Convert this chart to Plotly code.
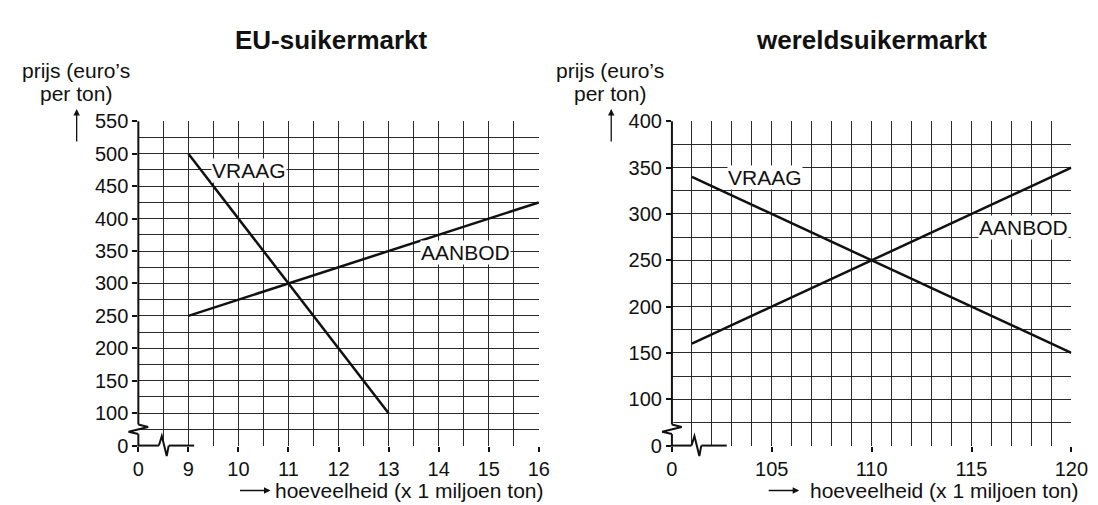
import plotly.graph_objects as go

# ---------------- data ----------------
eu_vraag_x = [9, 13]
eu_vraag_y = [500, 100]
eu_aanbod_x = [9, 16]
eu_aanbod_y = [250, 425]

w_vraag_x = [101, 120]
w_vraag_y = [340, 150]
w_aanbod_x = [101, 120]
w_aanbod_y = [160, 350]

eu_xticks = [8, 9, 10, 11, 12, 13, 14, 15, 16]
eu_xtext = ["0", "9", "10", "11", "12", "13", "14", "15", "16"]
eu_yticks = [50, 100, 150, 200, 250, 300, 350, 400, 450, 500, 550]
eu_ytext = ["0", "100", "150", "200", "250", "300", "350", "400", "450", "500", "550"]

w_xticks = [100, 105, 110, 115, 120]
w_xtext = ["0", "105", "110", "115", "120"]
w_yticks = [50, 100, 150, 200, 250, 300, 350, 400]
w_ytext = ["0", "100", "150", "200", "250", "300", "350", "400"]

W, H = 1098, 505
FONT = "Liberation Sans, Arial, Helvetica, sans-serif"
GRID = "#2a2a2a"


def px(x):
    return x / W


def py(y):
    return 1 - y / H


fig = go.Figure()
line_style = dict(color="#111111", width=2.5)
fig.add_trace(go.Scatter(x=eu_vraag_x, y=eu_vraag_y, mode="lines", line=line_style,
                         xaxis="x", yaxis="y", showlegend=False, hoverinfo="skip"))
fig.add_trace(go.Scatter(x=eu_aanbod_x, y=eu_aanbod_y, mode="lines", line=line_style,
                         xaxis="x", yaxis="y", showlegend=False, hoverinfo="skip"))
fig.add_trace(go.Scatter(x=w_vraag_x, y=w_vraag_y, mode="lines", line=line_style,
                         xaxis="x2", yaxis="y2", showlegend=False, hoverinfo="skip"))
fig.add_trace(go.Scatter(x=w_aanbod_x, y=w_aanbod_y, mode="lines", line=line_style,
                         xaxis="x2", yaxis="y2", showlegend=False, hoverinfo="skip"))

tickfont = dict(family=FONT, size=20, color="#111111")


def axis(domain, rng, tickvals, ticktext, minor_dtick, minor_tick0, anchor):
    return dict(
        domain=domain, range=rng, anchor=anchor,
        tickmode="array", tickvals=tickvals, ticktext=ticktext,
        ticks="outside", ticklen=5, tickwidth=2, tickcolor="#111111",
        tickfont=tickfont,
        showgrid=True, gridcolor=GRID, gridwidth=1,
        minor=dict(dtick=minor_dtick, tick0=minor_tick0, showgrid=True,
                   gridcolor=GRID, gridwidth=1, ticks=""),
        showline=False, zeroline=False, fixedrange=True,
    )


xd1 = [px(127), px(536)]
xd2 = [px(672), px(1080)]
yd = [py(446), py(107)]

layout = dict(
    width=W, height=H,
    margin=dict(l=0, r=0, t=0, b=0),
    paper_bgcolor="white", plot_bgcolor="white",
    showlegend=False,
    xaxis=axis(xd1, [8, 16], eu_xticks, eu_xtext, 0.5, 8, "y"),
    yaxis=axis(yd, [50, 550], eu_yticks, eu_ytext, 25, 50, "x"),
    xaxis2=axis(xd2, [100, 120], w_xticks, w_xtext, 1, 100, "y2"),
    yaxis2=axis(yd, [50, 400], w_yticks, w_ytext, 25, 50, "x2"),
)
fig.update_layout(**layout)

shapes = []


def seg(x0, y0, x1, y1, lw=2):
    shapes.append(dict(type="line", xref="paper", yref="paper",
                       x0=px(x0), y0=py(y0), x1=px(x1), y1=py(y1),
                       line=dict(color="#111111", width=lw), layer="above"))


def mask(x0, y0, x1, y1):
    shapes.append(dict(type="rect", xref="paper", yref="paper",
                       x0=px(x0), y0=py(y0), x1=px(x1), y1=py(y1),
                       line=dict(width=0), fillcolor="white", layer="above"))


def poly(pts, lw=2):
    d = "M " + " L ".join(f"{px(a):.5f},{py(b):.5f}" for a, b in pts)
    shapes.append(dict(type="path", xref="paper", yref="paper", path=d,
                       line=dict(color="#111111", width=lw), layer="above"))


for ax0, bx in ((127, 148), (672, 692)):
    # y-axis with break
    mask(ax0 - 2, 422, ax0 + 2, 436)
    seg(ax0, 107, ax0, 424)
    poly([(ax0, 424), (ax0 + 10, 426.5), (ax0 - 10, 431.5), (ax0, 434)])
    seg(ax0, 434, ax0, 447)
    # x-axis with break
    mask(bx, 443, bx + 11, 449)
    seg(ax0, 446, bx, 446)
    poly([(bx, 446), (bx + 3, 436), (bx + 8, 457), (bx + 10, 446)])
    seg(bx + 10, 446, bx + 36, 446)

fig.update_layout(shapes=shapes)

ann = []
lab_font = dict(family=FONT, size=21, color="#111111")


def ptext(text, x, y, xanchor="center", font=lab_font):
    ann.append(dict(text=text, x=px(x), y=py(y), xref="paper", yref="paper",
                    xanchor=xanchor, yanchor="middle", showarrow=False, font=font))


# titles
title_font = dict(family=FONT, size=26, color="#111111")
ptext("<b>EU-suikermarkt</b>", 324, 22, font=title_font)
ptext("<b>wereldsuikermarkt</b>", 876, 22, font=title_font)

# y-axis titles and arrows
for cx in (63, 609):
    ptext("prijs (euro’s", cx, 54)
    ptext("per ton)", cx, 78)
    ann.append(dict(text="", x=px(cx + 1), y=py(94), xref="paper", yref="paper",
                    ax=0, ay=34, axref="pixel", ayref="pixel",
                    showarrow=True, arrowhead=2, arrowsize=1, arrowwidth=1.3, arrowcolor="#111111"))

# x-axis titles and arrows
for right, tip in ((543, 262), (1090, 802)):
    ptext("hoeveelheid (x 1 miljoen ton)", right, 493, xanchor="right")
    ann.append(dict(text="", x=px(tip), y=py(493), xref="paper", yref="paper",
                    ax=-32, ay=0, axref="pixel", ayref="pixel",
                    showarrow=True, arrowhead=2, arrowsize=1, arrowwidth=1.3, arrowcolor="#111111"))

# line labels
labels = [
    ("VRAAG", 9.46, 474.6, "x", "y"),
    ("AANBOD", 13.63, 347, "x", "y"),
    ("VRAAG", 102.75, 339, "x2", "y2"),
    ("AANBOD", 115.3, 285, "x2", "y2"),
]
for t, x, y, xr, yr in labels:
    ann.append(dict(text=t, x=x, y=y, xref=xr, yref=yr, xanchor="left", yanchor="middle",
                    showarrow=False, font=lab_font, bgcolor="white", borderpad=0))

fig.update_layout(annotations=ann)
fig.write_html("out.html")
